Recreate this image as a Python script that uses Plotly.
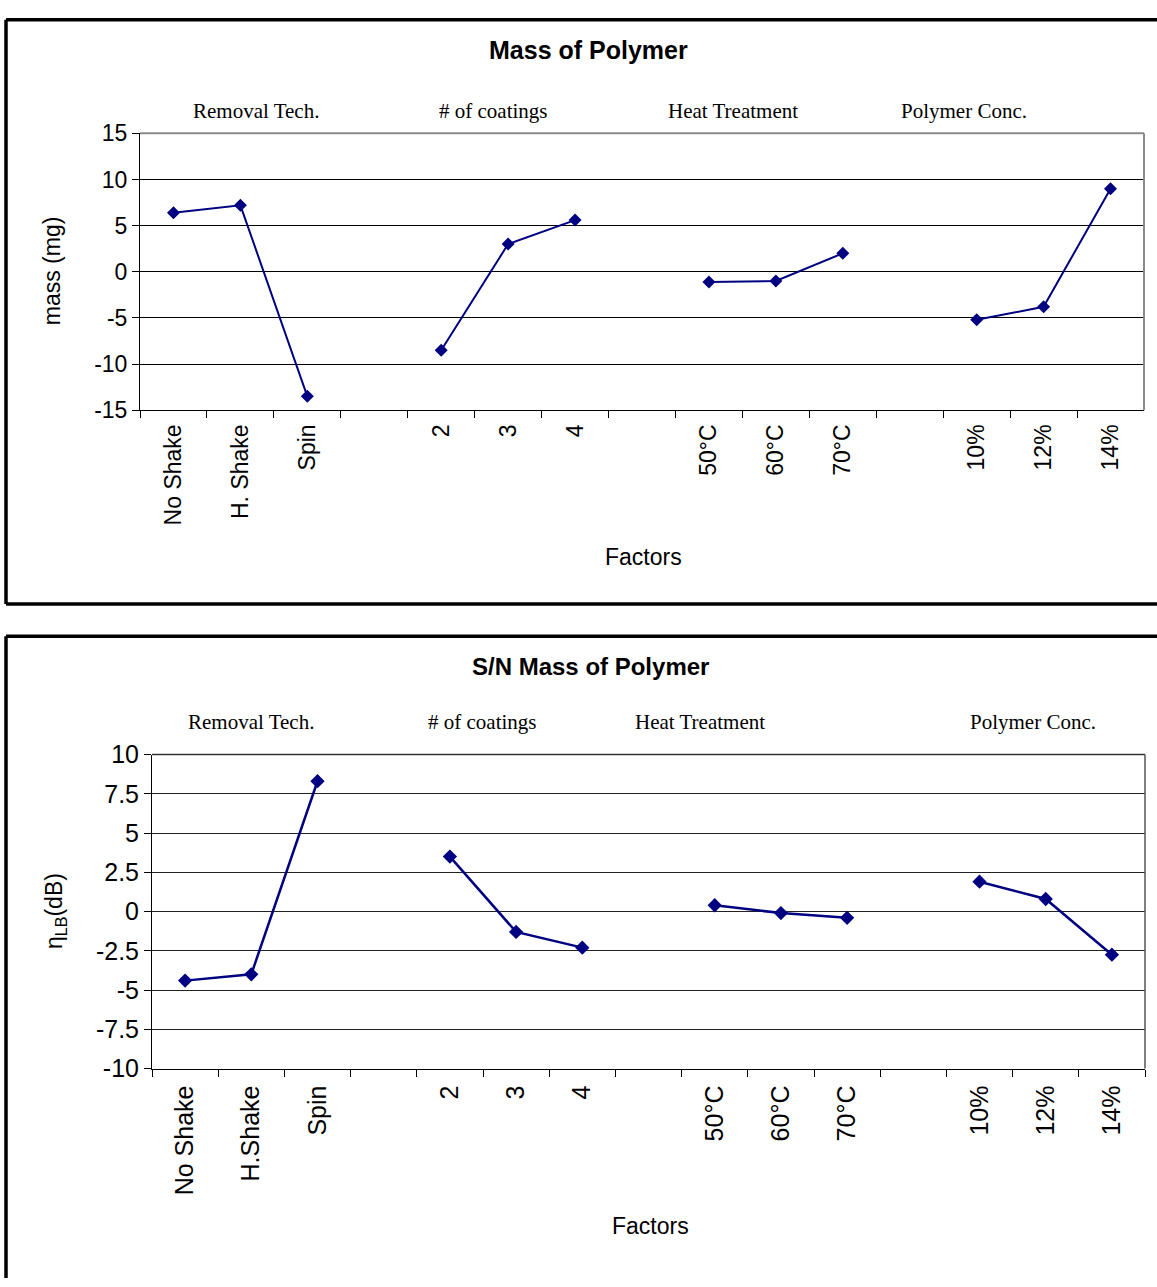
import plotly.graph_objects as go

W, H = 1157, 1287

# ---------------- data ----------------
categories_mass = ["No Shake", "H. Shake", "Spin", " ", "2", "3", "4", "  ",
                   "50°C", "60°C", "70°C", "   ", "10%", "12%", "14%"]
categories_sn = ["No Shake", "H.Shake", "Spin", " ", "2", "3", "4", "  ",
                 "50°C", "60°C", "70°C", "   ", "10%", "12%", "14%"]
mass_values = [6.4, 7.2, -13.5, None, -8.5, 3.0, 5.6, None,
               -1.1, -1.0, 2.0, None, -5.2, -3.8, 9.0]
sn_values = [-4.4, -4.0, 8.3, None, 3.5, -1.3, -2.3, None,
             0.4, -0.1, -0.4, None, 1.9, 0.8, -2.75]
group_labels = ["Removal Tech.", "# of coatings", "Heat Treatment", "Polymer Conc."]
mass_ticks = [15, 10, 5, 0, -5, -10, -15]
mass_ticktext = ["15", "10", "5", "0", "-5", "-10", "-15"]
sn_ticks = [10, 7.5, 5, 2.5, 0, -2.5, -5, -7.5, -10]
sn_ticktext = ["10", "7.5", "5", "2.5", "0", "-2.5", "-5", "-7.5", "-10"]

# ---------------- helpers ----------------
def px(x):
    return x / W

def py(y):
    return 1 - y / H

NAVY = "#000080"
ARIAL = "Arial, Liberation Sans, sans-serif"
TIMES = "Times New Roman, Liberation Serif, serif"

fig = go.Figure()

fig.add_trace(go.Scatter(
    x=categories_mass, y=mass_values, mode="lines+markers",
    line=dict(color=NAVY, width=2),
    marker=dict(symbol="diamond", size=10, color=NAVY),
    connectgaps=False, showlegend=False, xaxis="x", yaxis="y"))

fig.add_trace(go.Scatter(
    x=categories_sn, y=sn_values, mode="lines+markers",
    line=dict(color=NAVY, width=2.5),
    marker=dict(symbol="diamond", size=11, color=NAVY),
    connectgaps=False, showlegend=False, xaxis="x2", yaxis="y2"))

# plot-area pixel geometry
top_x0, top_x1, top_y0, top_y1 = 140, 1144, 122, 405
bot_x0, bot_x1, bot_y0, bot_y1 = 152, 1145, 757, 1078

common_x = dict(type="category", tickson="boundaries", ticks="outside", ticklen=7,
                tickcolor="black", showline=True, linecolor="black", linewidth=1,
                showgrid=False, tickangle=-90, zeroline=False, fixedrange=True)
common_y = dict(ticks="outside", ticklen=7, tickcolor="black", showline=True,
                linecolor="black", linewidth=1, showgrid=True, gridwidth=1,
                zeroline=False, tickmode="array", fixedrange=True)

fig.update_layout(
    width=W, height=H,
    margin=dict(l=0, r=0, t=0, b=0),
    paper_bgcolor="white", plot_bgcolor="white",
    xaxis=dict(common_x, domain=[px(top_x0), px(top_x1)], anchor="y",
               categoryorder="array", categoryarray=categories_mass,
               range=[-0.5, 14.5], tickfont=dict(family=ARIAL, size=23, color="black"),
               ticklabelstandoff=4),
    yaxis=dict(common_y, domain=[py(top_y1), py(top_y0)], anchor="x",
               range=[-15, 15], tickvals=mass_ticks, ticktext=mass_ticktext,
               gridcolor="black", tickfont=dict(family=ARIAL, size=23, color="black")),
    xaxis2=dict(common_x, domain=[px(bot_x0), px(bot_x1)], anchor="y2",
                categoryorder="array", categoryarray=categories_sn,
                range=[-0.5, 14.5], tickfont=dict(family=ARIAL, size=25, color="black"),
                ticklabelstandoff=6),
    yaxis2=dict(common_y, domain=[py(bot_y1), py(bot_y0)], anchor="x2",
                range=[-10, 10], tickvals=sn_ticks, ticktext=sn_ticktext,
                gridcolor="#222222", tickfont=dict(family=ARIAL, size=25, color="black")),
)

annotations = []
# titles
annotations.append(dict(text="<b>Mass of Polymer</b>", x=px(589), y=py(37),
                        font=dict(family=ARIAL, size=25, color="black")))
annotations.append(dict(text="<b>S/N Mass of Polymer</b>", x=px(590), y=py(667),
                        font=dict(family=ARIAL, size=24, color="black")))
# group labels
top_group_x = [256, 493, 733, 964]
bot_group_x = [251, 482, 700, 1033]
for lbl, gx in zip(group_labels, top_group_x):
    annotations.append(dict(text=lbl, x=px(gx), y=py(99),
                            font=dict(family=TIMES, size=21, color="black")))
for lbl, gx in zip(group_labels, bot_group_x):
    annotations.append(dict(text=lbl, x=px(gx), y=py(724),
                            font=dict(family=TIMES, size=21, color="black")))
# axis titles
annotations.append(dict(text="Factors", x=px(643), y=py(555),
                        font=dict(family=ARIAL, size=23, color="black")))
annotations.append(dict(text="Factors", x=px(650), y=py(1239),
                        font=dict(family=ARIAL, size=23, color="black")))
annotations.append(dict(text="mass (mg)", x=px(52), y=py(263), textangle=-90,
                        font=dict(family=ARIAL, size=23, color="black")))
annotations.append(dict(text="η<sub>LB</sub>(dB)", x=px(55), y=py(917), textangle=-90,
                        font=dict(family=ARIAL, size=23, color="black")))
for a in annotations:
    a.update(xref="paper", yref="paper", showarrow=False, xanchor="center", yanchor="middle")
fig.update_layout(annotations=annotations)

shapes = []
# panel borders (right / bottom edges lie outside the picture)
BW = 3.5
shapes += [
    dict(type="line", x0=px(6), x1=px(6), y0=py(6), y1=py(603)),
    dict(type="line", x0=px(6), x1=px(W + 5), y0=py(6), y1=py(6)),
    dict(type="line", x0=px(6), x1=px(W + 5), y0=py(603), y1=py(603)),
    dict(type="line", x0=px(6), x1=px(6), y0=py(636), y1=py(H + 5)),
    dict(type="line", x0=px(6), x1=px(W + 5), y0=py(636), y1=py(636)),
]
for s in shapes:
    s.update(xref="paper", yref="paper", line=dict(color="black", width=BW))
# plot-area frames (top and right, grey)
frames = [
    dict(type="line", x0=px(top_x0), x1=px(top_x1), y0=py(top_y0), y1=py(top_y0), line=dict(color="#8a8a8a", width=2)),
    dict(type="line", x0=px(top_x1), x1=px(top_x1), y0=py(top_y0), y1=py(top_y1), line=dict(color="#8a8a8a", width=2)),
    dict(type="line", x0=px(bot_x0), x1=px(bot_x1), y0=py(bot_y0), y1=py(bot_y0), line=dict(color="#333333", width=1.5)),
    dict(type="line", x0=px(bot_x1), x1=px(bot_x1), y0=py(bot_y0), y1=py(bot_y1), line=dict(color="#555555", width=1.5)),
]
for f in frames:
    f.update(xref="paper", yref="paper", layer="above")
fig.update_layout(shapes=shapes + frames)

fig.write_html("out.html", config={"displayModeBar": False},
               post_script="document.body.style.margin='0';document.body.style.overflow='hidden';")
